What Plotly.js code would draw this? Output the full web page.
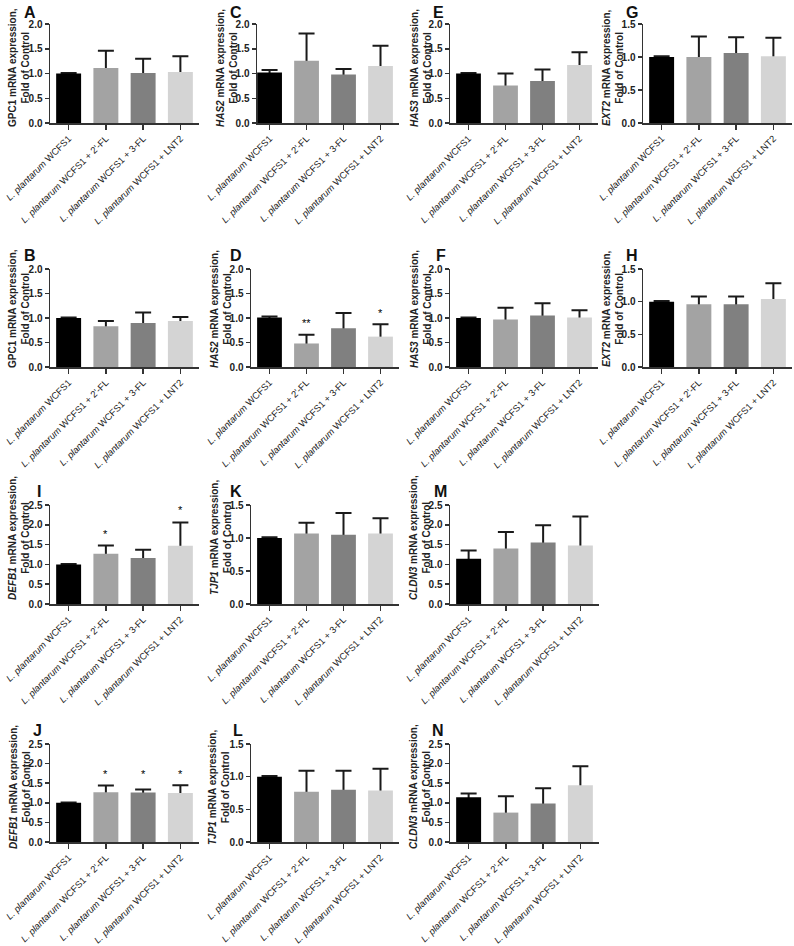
<!DOCTYPE html>
<html>
<head>
<meta charset="utf-8">
<script src="https://cdn.plot.ly/plotly-3.0.1.min.js"></script>
<style>
html,body{margin:0;padding:0;background:#fff;}
#chart{width:794px;height:946px;}
</style>
</head>
<body>
<div id="chart"></div>
<script>
// ---------- categories & tick labels ----------
const groups = ["L. plantarum WCFS1", "L. plantarum WCFS1 + 2'-FL", "L. plantarum WCFS1 + 3-FL", "L. plantarum WCFS1 + LNT2"];
const groupLabels = ["<i>L. plantarum</i> WCFS1", "<i>L. plantarum</i> WCFS1 + 2'-FL", "<i>L. plantarum</i> WCFS1 + 3-FL", "<i>L. plantarum</i> WCFS1 + LNT2"];
const barColors = ["#000000", "#a3a3a3", "#808080", "#d4d4d4"];

// ---------- series values (mean, upper SD) ----------
// A – GPC1
const meanA = [1.00, 1.11, 1.01, 1.03];
const errA  = [0.01, 0.35, 0.29, 0.32];
// B – GPC1
const meanB = [1.00, 0.83, 0.90, 0.94];
const errB  = [0.01, 0.11, 0.21, 0.08];
// C – HAS2
const meanC = [1.02, 1.26, 0.98, 1.15];
const errC  = [0.05, 0.55, 0.11, 0.41];
// D – HAS2
const meanD = [1.01, 0.48, 0.79, 0.62];
const errD  = [0.02, 0.18, 0.31, 0.25];
const starsD = ["", "**", "", "*"];
const starYD = [null, 0.96, null, 1.16];
// E – HAS3
const meanE = [1.00, 0.76, 0.85, 1.17];
const errE  = [0.01, 0.24, 0.23, 0.26];
// F – HAS3
const meanF = [1.00, 0.97, 1.05, 1.01];
const errF  = [0.01, 0.24, 0.25, 0.15];
// G – EXT2
const meanG = [1.00, 1.00, 1.06, 1.01];
const errG  = [0.01, 0.31, 0.24, 0.28];
// H – EXT2
const meanH = [1.00, 0.96, 0.96, 1.04];
const errH  = [0.01, 0.12, 0.12, 0.24];
// I – DEFB1
const meanI = [1.00, 1.27, 1.16, 1.47];
const errI  = [0.01, 0.21, 0.21, 0.59];
const starsI = ["", "*", "", "*"];
const starYI = [null, 1.85, null, 2.44];
// K – TJP1
const meanK = [1.00, 1.07, 1.05, 1.07];
const errK  = [0.01, 0.16, 0.33, 0.23];
// M – CLDN3
const meanM = [1.14, 1.40, 1.55, 1.48];
const errM  = [0.21, 0.42, 0.44, 0.73];
// J – DEFB1
const meanJ = [1.00, 1.27, 1.26, 1.25];
const errJ  = [0.01, 0.17, 0.08, 0.20];
const starsJ = ["", "*", "*", "*"];
const starYJ = [null, 1.82, 1.82, 1.82];
// L – TJP1
const meanL = [1.00, 0.77, 0.80, 0.79];
const errL  = [0.01, 0.32, 0.29, 0.33];
// N – CLDN3
const meanN = [1.14, 0.75, 0.98, 1.45];
const errN  = [0.10, 0.42, 0.39, 0.48];

// ---------- panel placement (pixels) ----------
const W = 794, H = 946;
const panels = [
  {id:'A', gene:'GPC1',  it:false, ymax:2.0, mean:meanA, err:errA, xpx:[50,199],  ypx:[24,123],  x0:-0.5,  letter:[22,2],    title:[19,68]},
  {id:'C', gene:'HAS2',  it:true,  ymax:2.0, mean:meanC, err:errC, xpx:[257,399], ypx:[24,123],  x0:-0.34, letter:[228,2],   title:[227,68]},
  {id:'E', gene:'HAS3',  it:true,  ymax:2.0, mean:meanE, err:errE, xpx:[450,598], ypx:[24,123],  x0:-0.5,  letter:[431,2],   title:[421,68]},
  {id:'G', gene:'EXT2',  it:true,  ymax:1.5, mean:meanG, err:errG, xpx:[643,792], ypx:[24,123],  x0:-0.5,  letter:[624,2],   title:[613,68]},
  {id:'B', gene:'GPC1',  it:false, ymax:2.0, mean:meanB, err:errB, xpx:[50,199],  ypx:[269,367], x0:-0.5,  letter:[22,245],  title:[19,309]},
  {id:'D', gene:'HAS2',  it:true,  ymax:2.0, mean:meanD, err:errD, xpx:[251,399], ypx:[269,367], x0:-0.5,  letter:[228,245], title:[221,309], stars:starsD, starY:starYD},
  {id:'F', gene:'HAS3',  it:true,  ymax:2.0, mean:meanF, err:errF, xpx:[450,598], ypx:[269,367], x0:-0.5,  letter:[434,245], title:[421,309]},
  {id:'H', gene:'EXT2',  it:true,  ymax:1.5, mean:meanH, err:errH, xpx:[643,792], ypx:[269,367], x0:-0.5,  letter:[624,245], title:[613,309]},
  {id:'I', gene:'DEFB1', it:true,  ymax:2.5, mean:meanI, err:errI, xpx:[50,199],  ypx:[505,604], x0:-0.5,  letter:[35,481],  title:[19,538], stars:starsI, starY:starYI},
  {id:'K', gene:'TJP1',  it:true,  ymax:1.5, mean:meanK, err:errK, xpx:[251,399], ypx:[505,604], x0:-0.5,  letter:[228,481], title:[221,538]},
  {id:'M', gene:'CLDN3', it:true,  ymax:2.5, mean:meanM, err:errM, xpx:[450,599], ypx:[505,604], x0:-0.5,  letter:[432,481], title:[420,538]},
  {id:'J', gene:'DEFB1', it:true,  ymax:2.5, mean:meanJ, err:errJ, xpx:[50,199],  ypx:[744,842], x0:-0.5,  letter:[31,720],  title:[20,787], stars:starsJ, starY:starYJ},
  {id:'L', gene:'TJP1',  it:true,  ymax:1.5, mean:meanL, err:errL, xpx:[251,399], ypx:[744,842], x0:-0.5,  letter:[231,720], title:[219,787]},
  {id:'N', gene:'CLDN3', it:true,  ymax:2.5, mean:meanN, err:errN, xpx:[450,599], ypx:[744,842], x0:-0.5,  letter:[430,720], title:[420,787]}
];

const FONT = "Liberation Sans, Arial, Helvetica, sans-serif";
const AX = '#333333';
const traces = [];
const annotations = [];
const layout = {
  width: W, height: H,
  margin: {l:0, r:0, t:0, b:0},
  paper_bgcolor: '#ffffff', plot_bgcolor: 'rgba(0,0,0,0)',
  barmode: 'overlay', bargap: 0.33,
  showlegend: false,
  font: {family: FONT, color: '#222'},
  annotations: annotations
};

panels.forEach((p, i) => {
  const k = i + 1;
  const sfx = k === 1 ? '' : String(k);
  const xa = 'x' + sfx, ya = 'y' + sfx;
  // error-bar carrier (transparent bars; whisker from 0 to mean+err, lower part hidden by the bars)
  traces.push({
    type: 'bar', x: groups, y: p.mean, xaxis: xa, yaxis: ya,
    marker: {color: 'rgba(0,0,0,0)', line: {width: 0}},
    error_y: {type: 'data', symmetric: false, array: p.err, arrayminus: p.mean,
              color: '#1a1a1a', thickness: 2, width: 8},
    hoverinfo: 'skip'
  });
  // visible bars
  traces.push({
    type: 'bar', x: groups, y: p.mean, xaxis: xa, yaxis: ya,
    marker: {color: barColors, line: {width: 0}},
    hoverinfo: 'skip'
  });
  layout['xaxis' + sfx] = {
    domain: [p.xpx[0] / W, p.xpx[1] / W], anchor: ya,
    type: 'category', range: [p.x0, 3.5],
    tickvals: groups, ticktext: groupLabels, tickangle: -45,
    tickfont: {family: FONT, size: 9.4, color: '#1a1a1a'},
    showline: true, linecolor: AX, linewidth: 1.5,
    ticks: 'outside', ticklen: 5, tickwidth: 1.5, tickcolor: AX,
    showgrid: false, zeroline: false, automargin: false, fixedrange: true
  };
  layout['yaxis' + sfx] = {
    domain: [1 - p.ypx[1] / H, 1 - p.ypx[0] / H], anchor: xa,
    range: [0, p.ymax], dtick: 0.5, tick0: 0, tickformat: '.1f',
    tickfont: {family: FONT, size: 10, color: '#222', weight: 'bold'},
    showline: true, linecolor: AX, linewidth: 1.5,
    ticks: 'outside', ticklen: 4, tickwidth: 1.5, tickcolor: AX,
    showgrid: false, zeroline: false, automargin: false, fixedrange: true
  };
  // panel letter
  annotations.push({
    xref: 'paper', yref: 'paper', x: p.letter[0] / W, y: 1 - p.letter[1] / H,
    xanchor: 'left', yanchor: 'top', showarrow: false,
    text: '<b>' + p.id + '</b>', font: {family: FONT, size: 16, color: '#111'}
  });
  // y-axis title
  const g = p.it ? '<i>' + p.gene + '</i>' : p.gene;
  annotations.push({
    xref: 'paper', yref: 'paper', x: p.title[0] / W, y: 1 - p.title[1] / H,
    xanchor: 'center', yanchor: 'middle', showarrow: false, textangle: -90,
    text: '<b>' + g + ' mRNA expression,<br>Fold of Control</b>',
    font: {family: FONT, size: 10, color: '#222'}
  });
  // significance marks
  if (p.stars) {
    p.stars.forEach((s, j) => {
      if (!s) return;
      annotations.push({
        xref: xa, yref: ya, x: groups[j], y: p.starY[j],
        xanchor: 'center', yanchor: 'middle', yshift: -3, showarrow: false,
        text: s, font: {family: FONT, size: 11, color: '#000000'}
      });
    });
  }
});

Plotly.newPlot('chart', traces, layout, {displayModeBar: false, staticPlot: true});
</script>
</body>
</html>
